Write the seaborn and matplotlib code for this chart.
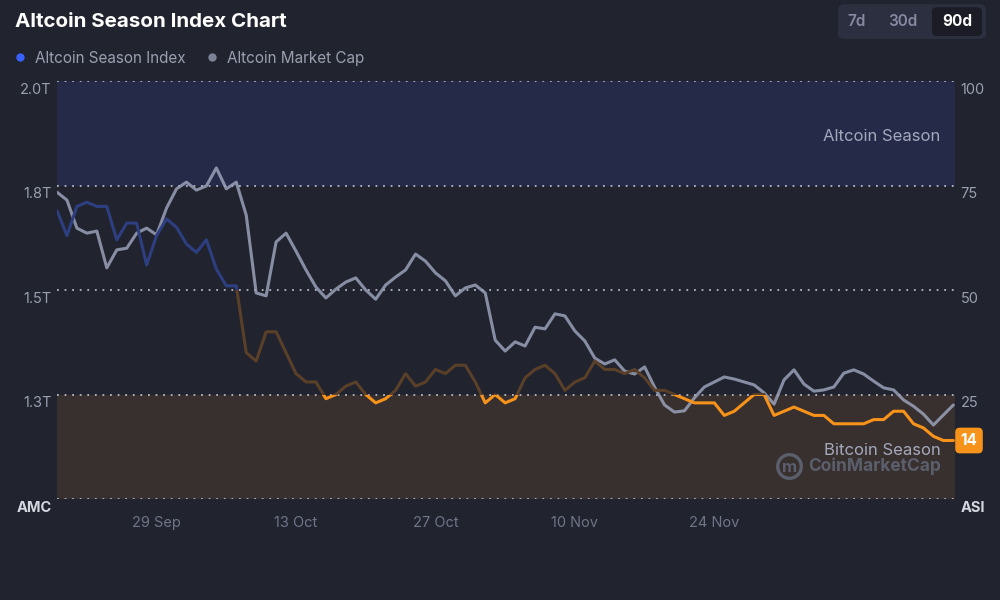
import numpy as np
import pandas as pd
import seaborn as sns
import matplotlib
matplotlib.use("Agg")
import matplotlib.pyplot as plt
from matplotlib.patches import Rectangle, FancyBboxPatch
from matplotlib.lines import Line2D
import matplotlib.transforms as mtransforms

# ---------------- data ----------------
start_date = "2025-09-19"
n_days = 91

market_cap_t = [
    1.734, 1.715, 1.648, 1.636, 1.641, 1.553, 1.596, 1.600, 1.636, 1.648,
    1.632, 1.696, 1.742, 1.758, 1.739, 1.749, 1.792, 1.742, 1.758, 1.679,
    1.493, 1.486, 1.615, 1.636, 1.593, 1.548, 1.507, 1.481, 1.502, 1.519,
    1.529, 1.500, 1.478, 1.512, 1.531, 1.548, 1.586, 1.569, 1.541, 1.522,
    1.486, 1.505, 1.512, 1.493, 1.380, 1.354, 1.376, 1.366, 1.411, 1.407,
    1.443, 1.438, 1.402, 1.378, 1.337, 1.323, 1.333, 1.306, 1.299, 1.316,
    1.268, 1.225, 1.208, 1.211, 1.242, 1.268, 1.280, 1.292, 1.287, 1.280,
    1.273, 1.254, 1.227, 1.285, 1.309, 1.275, 1.258, 1.261, 1.268, 1.301,
    1.309, 1.299, 1.282, 1.266, 1.261, 1.237, 1.222, 1.203, 1.177, 1.201,
    1.225,
]

asi_values = [
    69, 63, 70, 71, 70, 70, 62, 66, 66, 56,
    63, 67, 65, 61, 59, 62, 55, 51, 51, 35,
    33, 40, 40, 35, 30, 28, 28, 24, 25, 27,
    28, 25, 23, 24, 26, 30, 27, 28, 31, 30,
    32, 32, 28, 23, 25, 23, 24, 29, 31, 32,
    30, 26, 28, 29, 33, 31, 31, 30, 31, 29,
    26, 26, 25, 24, 23, 23, 23, 20, 21, 23,
    25, 25, 20, 21, 22, 21, 20, 20, 18, 18,
    18, 18, 19, 19, 21, 21, 18, 17, 15, 14,
    14,
]

dates = pd.date_range(start_date, periods=n_days, freq="D")
df = pd.DataFrame({"date": dates, "mc": market_cap_t, "asi": asi_values})

left_ticks = [1.0, 1.25, 1.5, 1.75, 2.0]
left_labels = ["AMC", "1.3T", "1.5T", "1.8T", "2.0T"]
right_ticks = [0, 25, 50, 75, 100]
right_labels = ["ASI", "25", "50", "75", "100"]
x_tick_dates = pd.to_datetime(["2025-09-29", "2025-10-13", "2025-10-27", "2025-11-10", "2025-11-24"])
x_tick_labels = ["29 Sep", "13 Oct", "27 Oct", "10 Nov", "24 Nov"]
latest_asi = asi_values[-1]

# ---------------- style ----------------
BG = "#21232f"
BLUE_BAND = "#252a48"
BROWN_BAND = "#382f2f"
GRID = "#b4b8c6"
TICK = "#9a9fb0"
XTICK = "#6f7488"
GREY_LINE = "#9aa2b8"
ASI_BLUE = "#2d3f80"
ASI_BROWN = "#5a4028"
ASI_ORANGE = "#f7931a"
BRIGHT_BLUE = "#3861fb"
WATERMARK = "#5b5e6b"

sns.set_theme(style="dark")
plt.rcParams["font.family"] = ["Inter", "DejaVu Sans"]

fig = plt.figure(figsize=(10, 6), dpi=100, facecolor=BG)
ax = fig.add_axes([0.057, 0.1683, 0.898, 0.6967])
ax2 = ax.twinx()

for a in (ax, ax2):
    a.set_facecolor("none")
    for s in a.spines.values():
        s.set_visible(False)
    a.grid(False)
ax.set_facecolor(BG)

ax.set_ylim(1.0, 2.0)
ax2.set_ylim(0, 100)
xmin, xmax = dates[0], dates[-1] + pd.Timedelta(hours=4)
ax.set_xlim(xmin, xmax)

# bands (ASI scale) drawn behind everything on the lower axes
band_tr = mtransforms.blended_transform_factory(ax.transAxes, ax2.transData)
ax.add_patch(Rectangle((0, 75), 1, 25, transform=band_tr, facecolor=BLUE_BAND,
                       edgecolor="none", zorder=0))
ax.add_patch(Rectangle((0, 0), 1, 25, transform=band_tr, facecolor=BROWN_BAND,
                       edgecolor="none", zorder=0))

# dotted grid lines
for t in left_ticks:
    ax.axhline(t, color=GRID, lw=1.3, linestyle=(0, (1, 3.2)), zorder=1)

# market cap line
sns.lineplot(data=df, x="date", y="mc", ax=ax, color=GREY_LINE, lw=2.2,
             alpha=0.85, zorder=3, legend=False)

# ASI line, coloured by zone
zones = [(50, 100, ASI_BLUE), (25, 50, ASI_BROWN), (0, 25, ASI_ORANGE)]
for lo, hi, col in zones:
    sns.lineplot(data=df, x="date", y="asi", ax=ax2, color=col, lw=2.2,
                 zorder=4, legend=False)
    line = ax2.lines[-1]
    clip = Rectangle((0, lo), 1, hi - lo, transform=band_tr, facecolor="none",
                     edgecolor="none")
    ax2.add_patch(clip)
    line.set_clip_path(clip)
ax2.set_xlim(xmin, xmax)

# ticks
ax.set_yticks(left_ticks)
ax.set_yticklabels(left_labels)
ax2.set_yticks(right_ticks)
ax2.set_yticklabels(right_labels)
ax.set_xticks(x_tick_dates)
ax.set_xticklabels(x_tick_labels)
ax.tick_params(axis="y", length=0, pad=4, labelsize=10.5, labelcolor=TICK)
ax2.tick_params(axis="y", length=0, pad=4, labelsize=10.5, labelcolor=TICK)
ax.tick_params(axis="x", length=0, pad=12, labelsize=10.5, labelcolor=XTICK)
ax.set_xlabel("")
ax.set_ylabel("")
ax2.set_ylabel("")

down = mtransforms.ScaledTranslation(0, -7 / 100, fig.dpi_scale_trans)
for lab in ax.get_yticklabels() + ax2.get_yticklabels():
    lab.set_transform(lab.get_transform() + down)
for lab in (ax.get_yticklabels()[0], ax2.get_yticklabels()[0]):
    lab.set_fontweight("bold")
    lab.set_color("#d4d7e0")

# zone labels
ax2.text(0.984, 86.8, "Altcoin Season", transform=band_tr, ha="right",
         va="center", fontsize=12, color="#a3a9bb")
ax2.text(0.984, 11.7, "Bitcoin Season", transform=band_tr, ha="right",
         va="center", fontsize=12, color="#a3a9bb")
ax2.text(0.984, 7.9, "CoinMarketCap", transform=band_tr, ha="right",
         va="center", fontsize=12.5, fontweight="bold", color=WATERMARK)
# watermark logo (symbol drawn as shape)
ax2.add_line(Line2D([0.8155], [7.9], transform=band_tr, marker="o",
                    markersize=17, markerfacecolor="none",
                    markeredgecolor=WATERMARK, markeredgewidth=2.4,
                    linestyle="none", clip_on=False))
ax2.text(0.8155, 7.6, "m", transform=band_tr, ha="center", va="center",
         fontsize=12, fontweight="bold", color=WATERMARK)

# latest value badge
ax2.text(1.0156, latest_asi, str(latest_asi), transform=band_tr, ha="center",
         va="center", fontsize=11, fontweight="bold", color="white",
         bbox=dict(boxstyle="round,pad=0.35,rounding_size=0.3",
                   facecolor=ASI_ORANGE, edgecolor="none"), clip_on=False)

# title
fig.text(0.015, 0.963, "Altcoin Season Index Chart", ha="left", va="center",
         fontsize=14.8, fontweight="bold", color="white")

# legend
handles = [
    Line2D([], [], marker="o", linestyle="none", markersize=6,
           markerfacecolor=BRIGHT_BLUE, markeredgecolor="none"),
    Line2D([], [], marker="o", linestyle="none", markersize=6,
           markerfacecolor="#7d8396", markeredgecolor="none"),
]
fig.legend(handles, ["Altcoin Season Index", "Altcoin Market Cap"],
           loc="center left", bbox_to_anchor=(0.003, 0.903), ncol=2,
           frameon=False, borderpad=0.3, handletextpad=0.69,
           columnspacing=1.4, handlelength=0.6, labelcolor="#9a9fb0",
           fontsize=11)

# period buttons
fig.patches.append(FancyBboxPatch((0.838, 0.935), 0.148, 0.058,
                                  boxstyle="round,pad=0,rounding_size=0.008",
                                  transform=fig.transFigure, facecolor="#2c2f3f",
                                  edgecolor="none"))
fig.patches.append(FancyBboxPatch((0.932, 0.940), 0.050, 0.048,
                                  boxstyle="round,pad=0,rounding_size=0.006",
                                  transform=fig.transFigure, facecolor="#1b1c26",
                                  edgecolor="none"))
fig.text(0.857, 0.965, "7d", ha="center", va="center", fontsize=11,
         fontweight="semibold", color="#858aa0")
fig.text(0.903, 0.965, "30d", ha="center", va="center", fontsize=11,
         fontweight="semibold", color="#858aa0")
fig.text(0.957, 0.965, "90d", ha="center", va="center", fontsize=11,
         fontweight="bold", color="white")

fig.savefig("out.png", dpi=100, facecolor=BG)
